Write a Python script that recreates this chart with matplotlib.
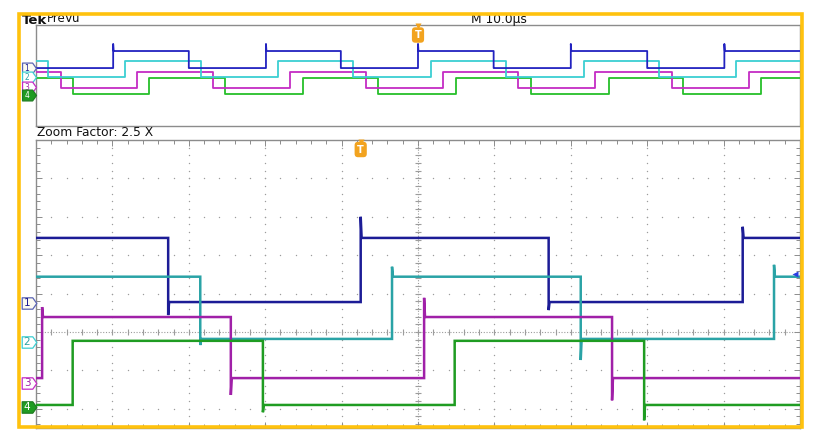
import numpy as np
import matplotlib
matplotlib.use("Agg")
import matplotlib.pyplot as plt
from matplotlib.path import Path
from matplotlib.patches import Rectangle

# ---------------- data ----------------
channels = ["1", "2", "3", "4"]

# PreVu (top) window: x in divisions (10 div x 10 us), y in divisions
prevu_ch1_edges = [1.01, 2.00, 3.01, 3.99, 5.00, 5.99, 7.00, 8.00, 9.01]
prevu_ch2_edges = [0.16, 1.16, 2.16, 3.17, 4.15, 5.17, 6.15, 7.17, 8.15, 9.16]
prevu_ch3_edges = [0.33, 1.32, 2.32, 3.32, 4.32, 5.33, 6.31, 7.32, 8.32, 9.33]
prevu_ch4_edges = [0.48, 1.48, 2.47, 3.49, 4.48, 5.50, 6.48, 7.50, 8.47, 9.49]
prevu_start_high = [False, True, True, True]
prevu_high = [1.94, 1.15, 0.28, -0.20]
prevu_low = [0.59, -0.12, -0.99, -1.47]
prevu_ref = [0.59, -0.12, -0.95, -1.58]
prevu_ch1_peaks = [2.50, 0.59, 2.50, 0.59, 2.50, 0.59, 2.50, 0.59, 2.50]

# Zoomed (bottom) window, zoom factor 2.5 X
zoom_ch1_edges = [1.73, 4.25, 6.71, 9.25]
zoom_ch2_edges = [2.15, 4.66, 7.13, 9.66]
zoom_ch3_edges = [0.08, 2.55, 5.08, 7.54]
zoom_ch4_edges = [0.48, 2.97, 5.48, 7.96]
zoom_ch1_peaks = [0.44, 3.00, 0.57, 2.74]
zoom_ch2_peaks = [-0.34, 1.70, -0.73, 1.75]
zoom_ch3_peaks = [0.65, -1.64, 0.89, -1.78]
zoom_ch4_peaks = [-0.23, -2.09, -0.23, -2.30]
zoom_start_high = [True, True, False, False]
zoom_high = [2.45, 1.44, 0.39, -0.23]
zoom_low = [0.78, -0.18, -1.20, -1.90]
zoom_ref = [0.76, -0.26, -1.33, -1.96]
zoom_right_marker_level = 1.52

zoom_factor_label = "Zoom Factor: 2.5 X"
timebase_label = "M 10.0\u00b5s"

# ---------------- style ----------------
zoom_colors = ["#1c1c96", "#2aa3a6", "#a020a8", "#1f9c22"]
prevu_colors = ["#2222c0", "#3ccfd2", "#c42cc4", "#26bf2a"]
marker_fc = ["#fbfbf2", "#ffffff", "#ffffff", "#1f9c22"]
marker_ec = ["#5a64b4", "#3ccfd2", "#c42cc4", "#1f7c22"]
marker_tc = ["#1c1c96", "#2aa3a6", "#a020a8", "#ffffff"]
frame_gray = "#8c8c8c"
grid_gray = "#9c9c9c"
trig_orange = "#f2a31f"
W, H = 816, 447


def make_trace(edges, start_high, high, low, xmax, peaks=None, dx=0.012):
    lvl = high if start_high else low
    xs, ys = [0.0], [lvl]
    for i, e in enumerate(edges):
        new = low if lvl == high else high
        xs += [e, e]
        ys += [lvl, peaks[i] if peaks is not None else new]
        xs.append(e + dx)
        ys.append(new)
        lvl = new
    xs.append(xmax)
    ys.append(lvl)
    return np.array(xs), np.array(ys)


fig = plt.figure(figsize=(W / 100, H / 100), dpi=100)
fig.patch.set_facecolor("white")
plt.rcParams["font.family"] = ["DejaVu Sans"]


def fx(px):
    return px / W


def fy(py):
    return 1 - py / H


# ---------------- top PreVu panel ----------------
ax_top = fig.add_axes([fx(36), fy(126), fx(800) - fx(36), fy(25) - fy(126)])
ax_top.set_xlim(0, 10)
ax_top.set_ylim(-4, 4)
ax_top.set_xticks([])
ax_top.set_yticks([])
for s in ax_top.spines.values():
    s.set_color(frame_gray)
    s.set_linewidth(1.0)

prevu_edges = [prevu_ch1_edges, prevu_ch2_edges, prevu_ch3_edges, prevu_ch4_edges]
for i in range(4):
    pk = prevu_ch1_peaks if i == 0 else None
    xs, ys = make_trace(prevu_edges[i], prevu_start_high[i], prevu_high[i],
                        prevu_low[i], 10, peaks=pk, dx=0.006)
    ax_top.plot(xs, ys, color=prevu_colors[i], lw=1.3, zorder=3 + (3 - i) * 0.1)

# ---------------- bottom zoom panel ----------------
ax = fig.add_axes([fx(36), fy(428), fx(800) - fx(36), fy(140) - fy(428)])
ax.set_xlim(0, 10)
ax.set_ylim(-2.5, 5.0)
ax.set_xticks(np.arange(0, 10.01, 1))
ax.set_yticks(np.arange(-2, 5.01, 1))
ax.set_xticks(np.arange(0, 10.01, 0.2), minor=True)
ax.set_yticks(np.arange(-2.4, 5.01, 0.2), minor=True)
ax.tick_params(which="both", direction="in", top=True, right=True,
               labelbottom=False, labelleft=False, color=frame_gray, width=0.7)
ax.tick_params(which="major", length=4)
ax.tick_params(which="minor", length=3)
for s in ax.spines.values():
    s.set_color(frame_gray)
    s.set_linewidth(1.0)

# graticule dots
yd = np.arange(-2.4, 5.0, 0.2)
for gx in [1, 2, 3, 4, 6, 7, 8, 9]:
    ax.plot(np.full(yd.size, gx), yd, ls="none", marker="o", ms=1.0,
            mec="none", mfc=grid_gray, zorder=1)
xd = np.arange(0.2, 10.0, 0.2)
for gy in [-2, -1, 1, 2, 3, 4]:
    ax.plot(xd, np.full(xd.size, gy), ls="none", marker="o", ms=1.0,
            mec="none", mfc=grid_gray, zorder=1)
# center crosshair
ax.axvline(5, color=grid_gray, lw=0.8, ls=(0, (1, 1.5)), zorder=1)
ax.axhline(0, color=grid_gray, lw=0.8, ls=(0, (1, 1.5)), zorder=1)
ax.plot(np.full(yd.size, 5), yd, ls="none", marker="_", ms=4.5, mew=0.8,
        color=grid_gray, zorder=1)
ax.plot(xd, np.zeros(xd.size), ls="none", marker="|", ms=4.5, mew=0.8,
        color=grid_gray, zorder=1)

zoom_edges = [zoom_ch1_edges, zoom_ch2_edges, zoom_ch3_edges, zoom_ch4_edges]
zoom_peaks = [zoom_ch1_peaks, zoom_ch2_peaks, zoom_ch3_peaks, zoom_ch4_peaks]
for i in range(4):
    xs, ys = make_trace(zoom_edges[i], zoom_start_high[i], zoom_high[i],
                        zoom_low[i], 10, peaks=zoom_peaks[i])
    ax.plot(xs, ys, color=zoom_colors[i], lw=1.8, zorder=3 + i * 0.1,
            solid_joinstyle="miter")

# small blue indicator at right edge
ax.plot([9.93], [zoom_right_marker_level], marker="<", ms=5, color="#2a3ee0",
        mec="none", ls="none", zorder=6, clip_on=False)

# ---------------- channel reference markers ----------------
pent = Path([(-1, -0.78), (0.45, -0.78), (1, 0), (0.45, 0.78), (-1, 0.78), (-1, -0.78)],
            [Path.MOVETO, Path.LINETO, Path.LINETO, Path.LINETO, Path.LINETO, Path.CLOSEPOLY])


def draw_markers(axx, refs, order, fs, ms):
    tr = axx.get_yaxis_transform()
    xpos = -7.5 / 764
    for i in order:
        axx.plot([xpos], [refs[i]], transform=tr, clip_on=False, ls="none",
                 marker=pent, ms=ms, mfc=marker_fc[i], mec=marker_ec[i],
                 mew=0.9, zorder=10 + i)
        axx.text(xpos - 1.5 / 764, refs[i], channels[i], transform=tr,
                 ha="center", va="center", fontsize=fs, color=marker_tc[i],
                 clip_on=False, zorder=10.5 + i)


draw_markers(ax, zoom_ref, [0, 1, 2, 3], 7.5, 10.5)
draw_markers(ax_top, prevu_ref, [0, 1, 2, 3], 5.5, 10.0)

# ---------------- trigger markers ----------------
trig_zoom = zoom_ch1_edges[1]
trig_prevu = prevu_ch1_edges[4]


def draw_trigger(axx, xval, ytop_frac, ybox_frac):
    tr = axx.get_xaxis_transform()
    axx.plot([xval], [ytop_frac], transform=tr, marker="v", ms=5,
             color=trig_orange, mec="none", clip_on=False, zorder=12)
    axx.text(xval, ybox_frac, "T", transform=tr, ha="center", va="center",
             fontsize=7, fontweight="bold", color="white", zorder=13,
             bbox=dict(boxstyle="round,pad=0.28,rounding_size=0.35",
                       fc=trig_orange, ec="none"))


draw_trigger(ax, trig_zoom, 1 - 2.0 / 288, 1 - 9.5 / 288)
draw_trigger(ax_top, trig_prevu, 1 - 1.0 / 101, 1 - 10.0 / 101)

# ---------------- texts ----------------
fig.text(fx(22), fy(20), "Tek", fontsize=9.5, fontweight="bold", color="#111111",
         ha="left", va="center")
fig.text(fx(47), fy(19), "PreVu", fontsize=8.5, color="#111111", ha="left", va="center")
fig.text(fx(471), fy(19), timebase_label, fontsize=8.8, color="#111111",
         ha="left", va="center")
fig.text(fx(37), fy(133), zoom_factor_label, fontsize=8.8, color="#111111",
         ha="left", va="center")

# ---------------- yellow frame ----------------
fig.patches.append(Rectangle((fx(19.2), fy(426.5)), fx(801.5) - fx(19.2),
                             fy(14.2) - fy(426.5), transform=fig.transFigure,
                             fill=False, ec="#ffc20e", lw=2.6, zorder=20))

fig.savefig("out.png", dpi=100, facecolor="white")
